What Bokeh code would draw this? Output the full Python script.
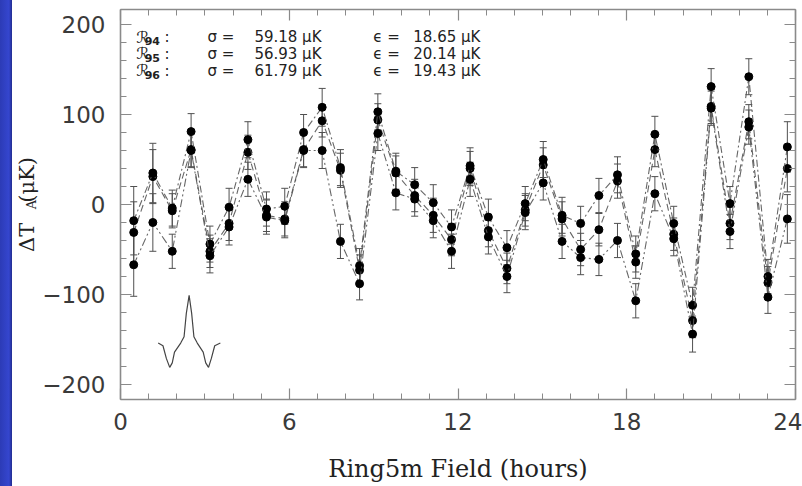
from bokeh.plotting import figure
from bokeh.layouts import row
from bokeh.models import (ColumnDataSource, Whisker, TeeHead, FixedTicker,
                          LinearAxis, Range1d)
from bokeh.core.properties import value
from bokeh.embed import file_html
from bokeh.resources import INLINE

# ---------------- data ----------------
hours = [0.47, 1.15, 1.84, 2.51, 3.18, 3.86, 4.53, 5.19, 5.84, 6.51, 7.17, 7.82,
         8.50, 9.15, 9.79, 10.46, 11.12, 11.77, 12.43, 13.08, 13.74, 14.39, 15.03, 15.70,
         16.36, 17.01, 17.67, 18.32, 19.00, 19.67, 20.34, 21.00, 21.67, 22.34, 23.02, 23.71]

r94 = [-31, 31, -7, 61, -52, -21, 58, -12, -16, 61, 93, 38,
       -73, 94, 35, 10, -12, -39, 40, -29, -71, -6, 44, -16,
       -50, -28, 26, -64, 61, -33, -129, 109, -21, 92, -87, 40]
r95 = [-18, 35, -4, 81, -44, -3, 72, -5, -2, 80, 108, 41,
       -68, 103, 37, 22, 2, -25, 43, -14, -48, 1, 50, -12,
       -21, 10, 33, -55, 78, -21, -112, 131, 1, 142, -80, 64]
r96 = [-67, -20, -52, 60, -57, -25, 28, -14, -18, 60, 60, -41,
       -88, 79, 13, 6, -18, -52, 28, -36, -80, -9, 24, -41,
       -59, -61, -40, -107, 12, -38, -144, 107, -30, 86, -103, -16]

e94 = [34, 30, 19, 19, 18, 19, 19, 18, 19, 19, 18, 19,
       17, 18, 19, 18, 19, 18, 19, 18, 17, 18, 19, 19,
       18, 18, 19, 18, 19, 18, 19, 19, 18, 19, 18, 26]
e95 = [38, 33, 20, 20, 20, 21, 20, 19, 20, 20, 21, 20,
       19, 20, 20, 19, 20, 19, 20, 20, 19, 19, 20, 20,
       19, 19, 20, 20, 20, 19, 20, 20, 19, 20, 19, 28]
e96 = [35, 32, 19, 19, 19, 20, 19, 19, 19, 19, 20, 19,
       18, 19, 19, 19, 19, 19, 19, 19, 18, 19, 19, 19,
       19, 18, 19, 19, 19, 19, 20, 19, 19, 19, 18, 27]

series_ids = ["94", "95", "96"]
sigma = [59.18, 56.93, 61.79]
epsilon = [18.65, 20.14, 19.43]

# beam profile inset
beam_x = [1.34, 1.51, 1.63, 1.75, 1.84, 1.92, 2.14, 2.26, 2.34, 2.44,
          2.53, 2.61, 2.73, 2.94, 3.03, 3.13, 3.23, 3.35, 3.55]
beam_y = [-154, -157, -171, -181, -176, -164, -154, -147, -121, -101,
          -121, -147, -154, -164, -176, -181, -171, -157, -154]

x_ticks = [0, 6, 12, 18, 24]
x_minor = list(range(0, 25))
y_ticks = [-200, -100, 0, 100, 200]
y_tick_text = ["−200", "−100", "0", "100", "200"]
y_minor = list(range(-200, 201, 20))

x_label = "Ring5m Field (hours)"
y_label_main = "ΔT\u00a0\u00a0\u00a0(μK)"
y_label_sub = "A"

# ---------------- thin blue strip on the left ----------------
LW = 12
lf = figure(width=LW, height=486, output_backend="svg", toolbar_location=None,
            x_range=Range1d(0, 1), y_range=Range1d(0, 1),
            x_axis_type=None, y_axis_type=None, min_border=0,
            outline_line_color=None, background_fill_color=None,
            border_fill_color=None)
lf.styles = {"background": "linear-gradient(to right, #2c3bb6 0px, "
             "#3546cf 9px, #222c8e 12px)"}

# ---------------- main figure ----------------
p = figure(width=802 - LW, height=486, output_backend="svg", toolbar_location=None,
           x_range=Range1d(0, 24), y_range=Range1d(-216.7, 216.7),
           min_border_left=119 - LW, min_border_right=7, min_border_top=9,
           min_border_bottom=87, background_fill_color="white",
           border_fill_color="white", outline_line_color=None)
p.grid.visible = False

axis_col = "#8a8a8a"


def style_axis(ax, ticks, minor, show_labels):
    ax.ticker = FixedTicker(ticks=ticks, minor_ticks=minor)
    ax.axis_line_color = axis_col
    ax.axis_line_width = 1.6
    ax.major_tick_line_color = axis_col
    ax.minor_tick_line_color = axis_col
    ax.major_tick_line_width = 1.2
    ax.minor_tick_line_width = 1.0
    ax.major_tick_in = 11
    ax.major_tick_out = 0
    ax.minor_tick_in = 6
    ax.minor_tick_out = 0
    if show_labels:
        ax.major_label_text_font = "DejaVu Sans"
        ax.major_label_text_font_size = "23px"
        ax.major_label_text_color = "#3a3a3a"
    else:
        ax.major_label_text_color = None
        ax.major_label_text_font_size = "1px"
        ax.major_label_standoff = 0


style_axis(p.xaxis[0], x_ticks, x_minor, True)
style_axis(p.yaxis[0], y_ticks, y_minor, True)
p.yaxis[0].major_label_overrides = dict(zip(y_ticks, y_tick_text))
p.xaxis[0].major_label_standoff = 13
p.yaxis[0].major_label_standoff = 15
p.xaxis[0].axis_label = x_label
p.xaxis[0].axis_label_text_font = "DejaVu Serif"
p.xaxis[0].axis_label_text_font_style = "normal"
p.xaxis[0].axis_label_text_font_size = "24px"
p.xaxis[0].axis_label_text_color = "#222222"
p.xaxis[0].axis_label_standoff = 22

# y-axis title (main part), carried by the tick axis itself
p.yaxis[0].axis_label = y_label_main
p.yaxis[0].axis_label_text_font = "DejaVu Serif"
p.yaxis[0].axis_label_text_font_style = "normal"
p.yaxis[0].axis_label_text_font_size = "21px"
p.yaxis[0].axis_label_text_color = "#222222"
p.yaxis[0].axis_label_standoff = 0

# subscript "A" of the y-axis title, on a bare extra axis
sub_ax = LinearAxis(bounds=(-57, -47), ticker=FixedTicker(ticks=[]),
                    axis_line_color=None, major_tick_line_color=None,
                    minor_tick_line_color=None, major_label_standoff=0,
                    major_label_text_font_size="1px", major_label_text_color=None,
                    axis_label=y_label_sub, axis_label_text_font="DejaVu Serif",
                    axis_label_text_font_style="normal",
                    axis_label_text_font_size="13px",
                    axis_label_text_color="#222222", axis_label_standoff=-26)
p.add_layout(sub_ax, "left")

top_ax = LinearAxis()
style_axis(top_ax, x_ticks, x_minor, False)
p.add_layout(top_ax, "above")
right_ax = LinearAxis()
style_axis(right_ax, y_ticks, y_minor, False)
p.add_layout(right_ax, "right")

# ---------------- series ----------------
line_col = "#555555"
dashes = ["7 4", "7 3 2 3", "8 3 2 3 2 3"]
series = [(r94, e94), (r95, e95), (r96, e96)]
for (vals, errs), dash in zip(series, dashes):
    src = ColumnDataSource(dict(x=hours, y=vals,
                                lo=[v - e for v, e in zip(vals, errs)],
                                hi=[v + e for v, e in zip(vals, errs)]))
    p.line("x", "y", source=src, line_color=line_col, line_width=1.1,
           line_dash=dash, line_alpha=0.9)
    p.add_layout(Whisker(base="x", lower="lo", upper="hi", source=src,
                         dimension="height", line_color="#505050", line_width=1,
                         upper_head=TeeHead(size=7, line_color="#505050", line_width=1),
                         lower_head=TeeHead(size=7, line_color="#505050", line_width=1)))
    p.scatter("x", "y", source=src, size=8, color="black")

# beam profile
p.line(beam_x, beam_y, line_color="#444444", line_width=1.2)

# ---------------- statistics text ----------------
row_y = [186, 167.4, 148.6]
txt = dict(
    r_x=[0.56] * 3, r_y=row_y, r_t=["ℛ"] * 3,
    s_x=[0.86] * 3, s_y=[v - 4.5 for v in row_y], s_t=series_ids,
    c_x=[1.56] * 3, c_t=[":"] * 3,
    g_x=[3.09] * 3, g_t=["σ ="] * 3,
    v_x=[4.76] * 3, v_t=[f"{s:.2f} μK" for s in sigma],
    e_x=[8.99] * 3, e_t=["ϵ ="] * 3,
    w_x=[10.41] * 3, w_t=[f"{e:.2f} μK" for e in epsilon],
)
tsrc = ColumnDataSource(txt)
common = dict(source=tsrc, text_color="#222222", text_baseline="alphabetic",
              text_font=value("DejaVu Sans"))
p.text("r_x", "r_y", text="r_t", text_font_size="16px", text_font_style="italic", **common)
p.text("s_x", "s_y", text="s_t", text_font_size="11px", text_font_style="bold", **common)
p.text("c_x", "r_y", text="c_t", text_font_size="15px", **common)
p.text("g_x", "r_y", text="g_t", text_font_size="15px", **common)
p.text("v_x", "r_y", text="v_t", text_font_size="15px", **common)
p.text("e_x", "r_y", text="e_t", text_font_size="15px", **common)
p.text("w_x", "r_y", text="w_t", text_font_size="15px", **common)

layout = row(lf, p, spacing=0)
open("out.html", "w").write(file_html(layout, INLINE))
